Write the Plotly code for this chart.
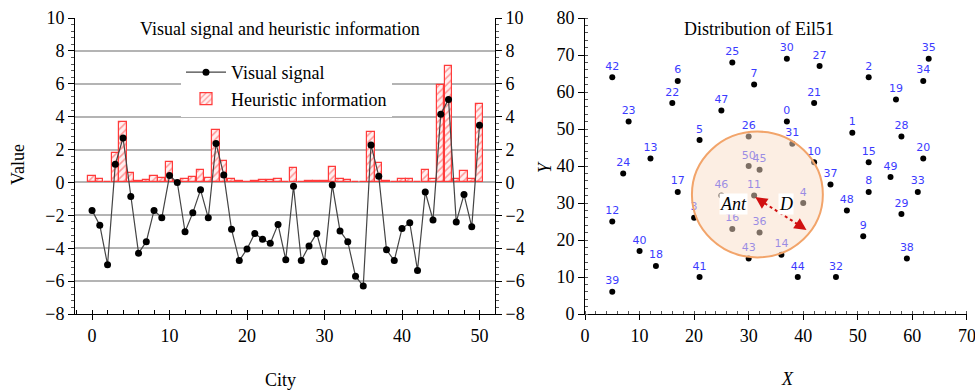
import plotly.graph_objects as go

# ---------------- data: left chart ----------------
cities = list(range(51))
visual_signal = [-1.7, -2.6, -5.0, 1.1, 2.7, -0.85, -4.3, -3.6, -1.7, -2.15,
                 0.42, 0.0, -3.0, -1.85, -0.45, -2.15, 2.37, 0.46, -2.85, -4.75,
                 -4.05, -3.1, -3.45, -3.7, -2.55, -4.7, -0.23, -4.75, -3.86, -3.1,
                 -4.83, -0.15, -2.95, -3.6, -5.7, -6.3, 2.28, 0.38, -4.1, -4.75,
                 -2.8, -2.45, -5.35, -0.58, -2.28, 4.15, 5.05, -2.4, -0.74, -2.7,
                 3.48]
heuristic = [0.38, 0.22, 0.05, 1.77, 3.67, 0.6, 0.1, 0.15, 0.4, 0.3,
             1.22, 0.1, 0.22, 0.36, 0.76, 0.3, 3.2, 1.28, 0.22, 0.06,
             0.05, 0.1, 0.15, 0.15, 0.2, 0.05, 0.86, 0.05, 0.1, 0.1,
             0.1, 0.94, 0.2, 0.15, 0.05, 0.05, 3.07, 1.16, 0.1, 0.05,
             0.22, 0.22, 0.05, 0.76, 0.22, 5.9, 7.1, 0.22, 0.7, 0.2,
             4.78]
y_ticks_left = [-8, -6, -4, -2, 0, 2, 4, 6, 8, 10]
x_ticks_left = [0, 10, 20, 30, 40, 50]

# ---------------- data: right chart (Eil51, 0-based labels) ----------------
eil_x = [37, 49, 52, 20, 40, 21, 17, 31, 52, 51, 42, 31, 5, 12, 36, 52, 27, 17, 13, 57,
         62, 42, 16, 8, 7, 27, 30, 43, 58, 58, 37, 38, 46, 61, 62, 63, 32, 45, 59, 5,
         10, 21, 5, 30, 39, 32, 25, 25, 48, 56, 30]
eil_y = [52, 49, 64, 26, 30, 47, 63, 62, 33, 21, 41, 32, 25, 42, 16, 41, 23, 33, 13, 58,
         42, 57, 57, 52, 38, 68, 48, 67, 48, 27, 69, 46, 10, 33, 63, 69, 22, 35, 15, 6,
         17, 10, 64, 15, 10, 39, 32, 55, 28, 37, 40]
eil_labels = [str(i) for i in range(51)]
x_ticks_right = [0, 10, 20, 30, 40, 50, 60, 70]
y_ticks_right = [0, 10, 20, 30, 40, 50, 60, 70, 80]

SERIF = "Liberation Serif, Times New Roman, serif"
TICKFONT = dict(family=SERIF, size=18, color="black")

fig = go.Figure()

fig.add_trace(go.Bar(
    x=cities, y=heuristic, width=0.95, name="Heuristic information",
    marker=dict(color="#ffeaea", line=dict(color="#ff3b3b", width=1.2),
                pattern=dict(shape="/", fgcolor="#ff3b3b", bgcolor="#fff0f0",
                             size=5, solidity=0.3)),
    xaxis="x", yaxis="y", legendrank=2))

fig.add_trace(go.Scatter(
    x=cities, y=visual_signal, mode="lines+markers", name="Visual signal",
    line=dict(color="#444444", width=1.2),
    marker=dict(color="black", size=7),
    xaxis="x", yaxis="y", legendrank=1))

# dummy trace on mirrored right axis
fig.add_trace(go.Scatter(x=[None], y=[None], xaxis="x", yaxis="y2", showlegend=False))

# right chart points
fig.add_trace(go.Scatter(
    x=eil_x, y=eil_y, mode="markers+text", text=eil_labels, textposition="top center",
    textfont=dict(family="DejaVu Sans, Verdana, sans-serif", size=11, color="#3b3bff"),
    marker=dict(color="black", size=6), showlegend=False,
    xaxis="x2", yaxis="y3", cliponaxis=False))

ldom_x = [75 / 975, 495 / 975]
dom_y = [1 - 314 / 392, 1 - 18 / 392]
rdom_x = [585 / 975, 967 / 975]

fig.update_layout(
    width=975, height=392, margin=dict(l=0, r=0, t=0, b=0),
    paper_bgcolor="white", plot_bgcolor="white",
    font=dict(family=SERIF, color="black"),
    bargap=0,
    xaxis=dict(domain=ldom_x, range=[-2.2, 52], tickvals=x_ticks_left,
               showline=True, linecolor="black", linewidth=1, ticks="outside",
               ticklen=5, tickcolor="black", tickfont=TICKFONT, showgrid=False,
               zeroline=False, anchor="y", automargin=False,
               minor=dict(dtick=2, tick0=0, ticks="inside", ticklen=4, tickcolor="black")),
    yaxis=dict(domain=dom_y, range=[-8, 10], tickvals=y_ticks_left,
               showline=True, linecolor="black", linewidth=1, ticks="outside",
               ticklen=6, tickcolor="black", tickfont=TICKFONT, automargin=False,
               showgrid=True, gridcolor="#b4b4b4", gridwidth=1.6, zeroline=False,
               anchor="x",
               minor=dict(dtick=0.4, tick0=0, ticks="outside", ticklen=3, tickcolor="#555555")),
    yaxis2=dict(domain=dom_y, range=[-8, 10], tickvals=y_ticks_left, overlaying="y",
                side="right", anchor="x", automargin=False,
                showline=True, linecolor="black", linewidth=1, ticks="outside",
                ticklen=6, tickcolor="black", tickfont=TICKFONT, showgrid=False,
                zeroline=False,
                minor=dict(dtick=0.4, tick0=0, ticks="outside", ticklen=3, tickcolor="#555555")),
    xaxis2=dict(domain=rdom_x, range=[0, 70.02], tickvals=x_ticks_right, anchor="y3",
                showline=True, linecolor="black", linewidth=1, ticks="outside",
                ticklen=5, tickcolor="black", tickfont=TICKFONT, showgrid=False,
                zeroline=False, automargin=False, ticklabeloverflow="allow",
                minor=dict(dtick=2, tick0=0, ticks="inside", ticklen=3, tickcolor="#555555")),
    yaxis3=dict(domain=dom_y, range=[0, 80], tickvals=y_ticks_right, anchor="x2",
                showline=True, linecolor="black", linewidth=1, ticks="outside",
                ticklen=6, tickcolor="black", tickfont=TICKFONT, showgrid=False,
                zeroline=False, automargin=False,
                minor=dict(dtick=2, tick0=0, ticks="inside", ticklen=3, tickcolor="#555555")),
    legend=dict(x=181 / 975, y=1 - 54 / 392, xanchor="left", yanchor="top",
                bgcolor="white", font=dict(family=SERIF, size=18, color="black"),
                itemwidth=40, tracegroupgap=0, traceorder="normal"),
)

# ant perception circle (semi-transparent overlay), centred near city 11
ant_cx, ant_cy, ant_rx, ant_ry = 31.6, 32.3, 12.0, 17.0
fig.add_shape(type="circle", xref="x2", yref="y3",
              x0=ant_cx - ant_rx, x1=ant_cx + ant_rx, y0=ant_cy - ant_ry, y1=ant_cy + ant_ry,
              fillcolor="rgba(250,222,200,0.5)", line=dict(color="#f2a46a", width=2),
              layer="above")

# dotted red double arrow (D)
ax0, ay0, ax1, ay1 = 31.2, 31.6, 40.6, 22.7
fig.add_shape(type="line", xref="x2", yref="y3", x0=ax0 + 0.8, y0=ay0 - 0.8,
              x1=ax1 - 0.8, y1=ay1 + 0.8,
              line=dict(color="#d01010", width=2, dash="dot"), layer="above")
fig.add_annotation(x=ax0, y=ay0, xref="x2", yref="y3", ax=9, ay=6, text="",
                   showarrow=True, arrowhead=2, arrowsize=1.2, arrowwidth=2, arrowcolor="#d01010")
fig.add_annotation(x=ax1, y=ay1, xref="x2", yref="y3", ax=-9, ay=-6, text="",
                   showarrow=True, arrowhead=2, arrowsize=1.2, arrowwidth=2, arrowcolor="#d01010")

fig.add_annotation(x=27.2, y=29.6, xref="x2", yref="y3", text="<i>Ant</i>", showarrow=False,
                   bgcolor="white", font=dict(family=SERIF, size=18, color="black"), borderpad=0)
fig.add_annotation(x=36.8, y=29.6, xref="x2", yref="y3", text="<i>D</i>", showarrow=False,
                   bgcolor="white", font=dict(family=SERIF, size=18, color="black"), borderpad=0)

# titles and axis labels
def paper_text(px, py, text, angle=0):
    fig.add_annotation(x=px / 975, y=1 - py / 392, xref="paper", yref="paper",
                       xanchor="center", yanchor="middle", text=text, textangle=angle,
                       showarrow=False, font=dict(family=SERIF, size=18, color="black"))

paper_text(280, 28.5, "Visual signal and heuristic information")
paper_text(759, 28.5, "Distribution of Eil51")
paper_text(280, 380, "City")
paper_text(787, 379, "<i>X</i>")
paper_text(18, 165, "Value", -90)
paper_text(545, 167, "<i>Y</i>", -90)

fig.write_html("out.html")
